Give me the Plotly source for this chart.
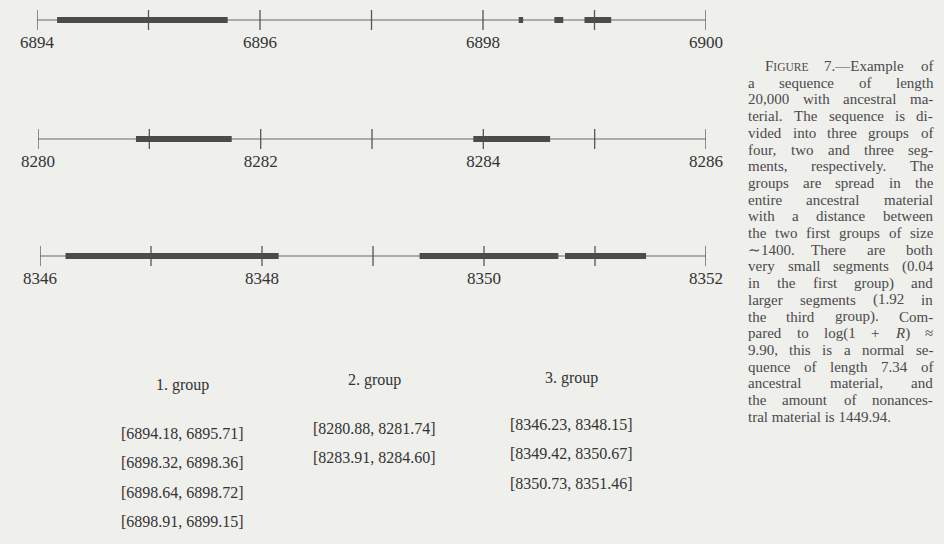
import re
import plotly.graph_objects as go

# ---- data -------------------------------------------------------------
row_starts = [6894, 8280, 8346]          # left end of each sequence window
row_span = 6                             # window length shown on each line
label_step = 2                           # numbered ticks every 2 units

group_titles = ["1. group", "2. group", "3. group"]
group1_segments = [[6894.18, 6895.71], [6898.32, 6898.36], [6898.64, 6898.72], [6898.91, 6899.15]]
group2_segments = [[8280.88, 8281.74], [8283.91, 8284.60]]
group3_segments = [[8346.23, 8348.15], [8349.42, 8350.67], [8350.73, 8351.46]]
groups = [group1_segments, group2_segments, group3_segments]

small_caps_px = 11.5
caption_lines = [
    f"F<span style='font-size:{small_caps_px}px'>IGURE</span> 7.\u2014Example of",
    "a sequence of length",
    "20,000 with ancestral ma-",
    "terial. The sequence is di-",
    "vided into three groups of",
    "four, two and three seg-",
    "ments, respectively. The",
    "groups are spread in the",
    "entire ancestral material",
    "with a distance between",
    "the two first groups of size",
    "\u223c1400. There are both",
    "very small segments (0.04",
    "in the first group) and",
    "larger segments (1.92 in",
    "the third group). Com-",
    "pared to log(1 + <i>R</i>) \u2248",
    "9.90, this is a normal se-",
    "quence of length 7.34 of",
    "ancestral material, and",
    "the amount of nonances-",
    "tral material is 1449.94.",
]

# ---- page geometry (pixels) ------------------------------------------
W, H = 944, 544
BG = "#efefec"
INK = "#333333"
SERIF = "Liberation Serif, Times New Roman, serif"

row_line_y = [20, 139, 256]
row_label_gap = 10
row_x = [(37, 706), (38, 706), (40, 706)]

col_cx = [182, 374, 571]
col_title_y = [385, 380, 378]
col_first_y = [433, 428, 424]
col_step = 29.5

cap_left, cap_indent, cap_right = 747, 764, 932
cap_top, cap_step = 66, 16.7
cap_size = 15


def fx(px):
    return px / W


def fy(py):
    return 1 - py / H


# Times-Roman advance widths (1/1000 em) for justifying caption lines
TIMES = {
    ' ': 250, 'a': 444, 'b': 500, 'c': 444, 'd': 500, 'e': 444, 'f': 333, 'g': 500,
    'h': 500, 'i': 278, 'j': 278, 'k': 500, 'l': 278, 'm': 778, 'n': 500, 'o': 500,
    'p': 500, 'q': 500, 'r': 333, 's': 389, 't': 278, 'u': 500, 'v': 500, 'w': 722,
    'x': 500, 'y': 500, 'z': 444, ',': 250, '.': 250, '-': 333, '(': 333, ')': 333,
    '+': 564, '\u2248': 549, '\u223c': 541, '\u2014': 1000,
    'T': 611, 'C': 667, 'R': 611, 'F': 556, 'I': 333, 'G': 722, 'U': 722, 'E': 611,
}


def text_width(s, size):
    total = 0.0
    # pieces wrapped in a font-size span are measured at their own size
    for sized, inner, plain in re.findall(
            r"<span style='font-size:([\d.]+)px'>(.*?)</span>|([^<]+|<[^>]+>)", s):
        if sized:
            total += sum(TIMES.get(c, 500) for c in inner) / 1000 * float(sized)
        elif plain and not plain.startswith("<"):
            total += sum(TIMES.get(c, 500) for c in plain) / 1000 * size
    return total


def split_words(s):
    # split on spaces that are not inside an HTML tag
    return re.split(r" (?![^<]*>)", s)


fig = go.Figure()
layout_axes = {}

for i, (start, segs) in enumerate(zip(row_starts, groups)):
    n = i + 1
    xa = "x" if n == 1 else f"x{n}"
    ya = "y" if n == 1 else f"y{n}"
    end = start + row_span

    # base line of the sequence window
    fig.add_trace(go.Scatter(x=[start, end], y=[0, 0], mode="lines",
                             line=dict(color="#6a6a6a", width=1.2),
                             xaxis=xa, yaxis=ya, hoverinfo="skip"))
    # unit tick marks crossing the line
    fig.add_trace(go.Scatter(x=list(range(start, end + 1)), y=[0] * (row_span + 1),
                             mode="markers",
                             marker=dict(symbol="line-ns", size=16,
                                         line=dict(color="#555555", width=1.3)),
                             xaxis=xa, yaxis=ya, hoverinfo="skip"))
    # ancestral segments as thick bars
    sx, sy = [], []
    for a, b in segs:
        sx += [a, b, None]
        sy += [0, 0, None]
    fig.add_trace(go.Scatter(x=sx, y=sy, mode="lines",
                             line=dict(color="#4b4b4b", width=6),
                             xaxis=xa, yaxis=ya, hoverinfo="skip"))

    x0, x1 = row_x[i]
    ly = row_line_y[i]
    tv = list(range(start, end + 1, label_step))
    layout_axes["xaxis" if n == 1 else f"xaxis{n}"] = dict(
        domain=[fx(x0), fx(x1)], range=[start, end], anchor=ya,
        tickvals=tv, ticktext=[str(v) for v in tv], ticks="",
        showgrid=False, zeroline=False, showline=False, automargin=False,
        tickfont=dict(family=SERIF, size=17, color=INK), fixedrange=True)
    layout_axes["yaxis" if n == 1 else f"yaxis{n}"] = dict(
        domain=[fy(ly + row_label_gap), fy(ly - row_label_gap)], range=[-1, 1], anchor=xa,
        visible=False, automargin=False, fixedrange=True)

annotations = []

# group listings below the chart
for i, (title, segs) in enumerate(zip(group_titles, groups)):
    annotations.append(dict(x=fx(col_cx[i]), y=fy(col_title_y[i]), xref="paper", yref="paper",
                            text=title, showarrow=False, xanchor="center", yanchor="middle",
                            font=dict(family=SERIF, size=16, color=INK)))
    for k, (a, b) in enumerate(segs):
        annotations.append(dict(x=fx(col_cx[i]), y=fy(col_first_y[i] + k * col_step),
                                xref="paper", yref="paper",
                                text=f"[{a:.2f}, {b:.2f}]", showarrow=False,
                                xanchor="center", yanchor="middle",
                                font=dict(family=SERIF, size=16, color=INK)))

# justified caption column (first line indented, last line ragged)
cap_font = dict(family=SERIF, size=cap_size, color="#4a4a4a")
for j, line in enumerate(caption_lines):
    yy = fy(cap_top + j * cap_step)
    left = cap_indent if j == 0 else cap_left
    words = split_words(line)
    if j == len(caption_lines) - 1:
        annotations.append(dict(x=fx(left), y=yy, xref="paper", yref="paper",
                                text=line, showarrow=False, xanchor="left",
                                yanchor="middle", font=cap_font, borderpad=0))
        continue
    widths = [text_width(w, cap_size) for w in words]
    gap = (cap_right - left - sum(widths)) / (len(words) - 1)
    xpos = left
    for w, wd in zip(words, widths):
        annotations.append(dict(x=fx(xpos), y=yy, xref="paper", yref="paper",
                                text=w, showarrow=False, xanchor="left",
                                yanchor="middle", font=cap_font, borderpad=0))
        xpos += wd + gap

fig.update_layout(
    width=W, height=H,
    margin=dict(l=0, r=0, t=0, b=0, autoexpand=False),
    paper_bgcolor=BG, plot_bgcolor="rgba(0,0,0,0)",
    showlegend=False,
    annotations=annotations,
    **layout_axes,
)

fig.write_html("out.html", config={"displayModeBar": False})
